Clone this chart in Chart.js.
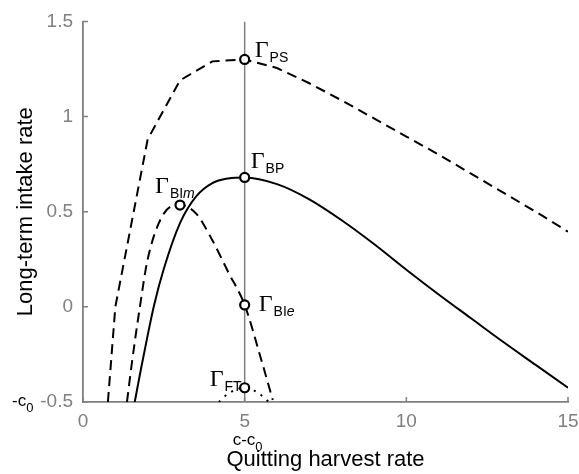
<!DOCTYPE html>
<html>
<head>
<meta charset="utf-8">
<script src="https://cdn.jsdelivr.net/npm/chart.js@4/dist/chart.umd.min.js"></script>
<style>
  html, body { margin: 0; padding: 0; background: #fff; }
</style>
</head>
<body>
<canvas id="chart" width="579" height="474"></canvas>
<script>
// axis ticks
const xTicks = [0, 5, 10, 15];
const yTicks = [-0.5, 0, 0.5, 1, 1.5];

// Gamma_PS curve (dashed)
const psX = [0.77, 1, 2, 3, 4, 5, 6, 7, 8, 9, 10, 11, 12, 13, 14, 15];
const psY = [-0.5, 0, 0.88, 1.19, 1.29, 1.30, 1.255, 1.175, 1.085, 0.99, 0.895, 0.80, 0.70, 0.60, 0.50, 0.395];

// Gamma_BI curve (dashed)
const biX = [1.36, 1.5, 1.76, 2, 2.5, 3, 3.5, 4, 4.5, 5, 5.5, 5.87];
const biY = [-0.5, -0.31, 0, 0.25, 0.49, 0.535, 0.49, 0.35, 0.18, 0.01, -0.27, -0.49];

// Gamma_BP curve (solid)
const bpX = [1.6, 1.8, 2, 2.2, 2.5, 3, 3.5, 4, 4.5, 5, 6, 7, 8, 9, 10, 11, 12, 13, 14, 15];
const bpY = [-0.5, -0.32, -0.15, 0.01, 0.20, 0.44, 0.58, 0.65, 0.675, 0.68, 0.645, 0.565, 0.455, 0.33, 0.195, 0.065, -0.06, -0.185, -0.305, -0.425];

// Gamma_FT curve (dotted)
const ftX = [4.2, 4.5, 5, 5.4, 5.75];
const ftY = [-0.5, -0.455, -0.425, -0.45, -0.5];

// vertical reference at c - c0
const vX = [5, 5];
const vY = [-0.5, 1.5];

// marked points and their labels
const markX = [5, 5, 3, 5, 5];
const markY = [1.30, 0.68, 0.535, 0.01, -0.425];
const markSub = ['PS', 'BP', 'BI', 'BI', 'FT'];
const markSubIt = ['', '', 'm', 'e', ''];

const SANS = "'Liberation Sans', Arial, sans-serif";
const SERIF = "'Liberation Serif', 'Times New Roman', serif";
const GREY = '#808080';

const pts = (xs, ys) => xs.map((x, i) => ({ x: x, y: ys[i] }));

// label offsets (px) from each marker
const labelOff = [[10, -2], [6, -9], [-25, -12], [14, 6], [-35, -2]];

const decor = {
  id: 'decor',
  afterDraw(chart) {
    const ctx = chart.ctx;
    const xs = chart.scales.x, ys = chart.scales.y;
    const a = chart.chartArea;
    ctx.save();
    // inward tick marks
    ctx.strokeStyle = GREY;
    ctx.lineWidth = 1.5;
    ctx.beginPath();
    xTicks.forEach(v => {
      const p = xs.getPixelForValue(v);
      ctx.moveTo(p, a.bottom); ctx.lineTo(p, a.bottom - 5);
    });
    yTicks.forEach(v => {
      const p = ys.getPixelForValue(v);
      ctx.moveTo(a.left, p); ctx.lineTo(a.left + 5, p);
    });
    ctx.stroke();

    // -c0 and c-c0
    ctx.fillStyle = '#000';
    ctx.textBaseline = 'alphabetic';
    ctx.textAlign = 'left';
    ctx.font = '17px ' + SANS;
    const y0 = ys.getPixelForValue(-0.5);
    ctx.fillText('-c', 12, y0 + 4);
    let w = ctx.measureText('-c').width;
    ctx.font = '13px ' + SANS;
    ctx.fillText('0', 12 + w, y0 + 10);
    const x5 = xs.getPixelForValue(5);
    ctx.font = '17px ' + SANS;
    ctx.fillText('c-c', x5 - 12, a.bottom + 43);
    w = ctx.measureText('c-c').width;
    ctx.font = '13px ' + SANS;
    ctx.fillText('0', x5 - 12 + w, a.bottom + 49);

    // Gamma labels
    markX.forEach((mx, i) => {
      const px = xs.getPixelForValue(mx) + labelOff[i][0];
      const py = ys.getPixelForValue(markY[i]) + labelOff[i][1];
      ctx.font = '24px ' + SERIF;
      ctx.fillText('\u0393', px, py);
      let sx = px + ctx.measureText('\u0393').width + 1;
      ctx.font = '14px ' + SANS;
      ctx.fillText(markSub[i], sx, py + 5);
      if (markSubIt[i]) {
        sx += ctx.measureText(markSub[i]).width;
        ctx.font = 'italic 14px ' + SANS;
        ctx.fillText(markSubIt[i], sx, py + 5);
      }
    });
    ctx.restore();
  }
};

const curve = (xs, ys, dash, extra) => Object.assign({
  data: pts(xs, ys),
  borderColor: '#000',
  borderWidth: 2,
  borderDash: dash,
  pointRadius: 0,
  fill: false,
  order: 1
}, extra || {});

new Chart(document.getElementById('chart'), {
  type: 'line',
  data: {
    datasets: [
      {
        data: pts(markX, markY),
        showLine: false,
        pointRadius: 4.5,
        pointBorderWidth: 2.2,
        pointBackgroundColor: '#fff',
        pointBorderColor: '#000',
        order: 0
      },
      curve(psX, psY, [10, 6], { tension: 0 }),
      curve(biX, biY, [10, 6], { cubicInterpolationMode: 'monotone' }),
      curve(bpX, bpY, [], { cubicInterpolationMode: 'monotone' }),
      curve(ftX, ftY, [2, 6], { cubicInterpolationMode: 'monotone' }),
      { data: pts(vX, vY), borderColor: GREY, borderWidth: 1.5, pointRadius: 0, order: 2 }
    ]
  },
  options: {
    responsive: false,
    animation: false,
    layout: { padding: { top: 19, right: 0, left: 0, bottom: 0 } },
    plugins: { legend: { display: false }, tooltip: { enabled: false } },
    scales: {
      x: {
        type: 'linear', min: 0, max: 15,
        afterBuildTicks: s => { s.ticks = xTicks.map(v => ({ value: v })); },
        afterFit: s => { s.height = 72; s.paddingRight = 11; s.paddingLeft = 0; },
        grid: { display: false, drawTicks: false },
        border: { color: GREY, width: 1.8 },
        ticks: { color: GREY, font: { size: 19, family: SANS }, padding: 8, callback: v => String(v) },
        title: { display: true, text: 'Quitting harvest rate', color: '#000', font: { size: 22, family: SANS }, padding: { top: 0, bottom: 1 } }
      },
      y: {
        type: 'linear', min: -0.5, max: 1.5,
        afterBuildTicks: s => { s.ticks = yTicks.map(v => ({ value: v })); },
        afterFit: s => { s.width = 83; },
        grid: { display: false, drawTicks: false },
        border: { color: GREY, width: 1.8 },
        ticks: { color: GREY, font: { size: 19, family: SANS }, padding: 10, callback: v => String(v) },
        title: { display: true, text: 'Long-term intake rate', color: '#000', font: { size: 22, family: SANS }, padding: { top: 13, bottom: 0 } }
      }
    }
  },
  plugins: [decor]
});
</script>
</body>
</html>
